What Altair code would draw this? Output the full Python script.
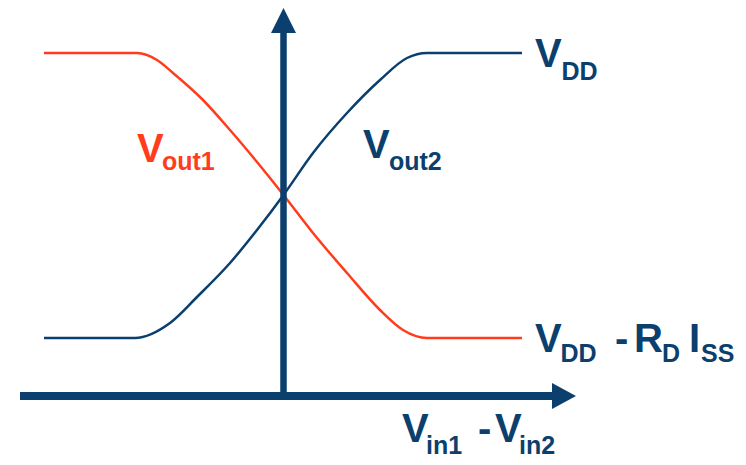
import altair as alt
import pandas as pd

NAVY = "#0b3f6e"
RED = "#ff3d1c"

# Transfer curves: x = Vin1 - Vin2, y = output voltage (arbitrary units)
red_x = [-2.395, -1.465, -1.265, -1.105, -0.805, -0.535, -0.265, 0.0, 0.295, 0.635, 0.965, 1.195, 1.435, 2.385]
red_y = [3.43, 3.43, 3.36, 3.23, 2.96, 2.66, 2.34, 2.01, 1.63, 1.23, 0.86, 0.66, 0.58, 0.58]
blue_x = [-2.395, -1.485, -1.135, -0.865, -0.535, -0.265, 0.0, 0.295, 0.635, 0.965, 1.235, 1.435, 2.385]
blue_y = [0.58, 0.58, 0.73, 0.99, 1.33, 1.66, 2.01, 2.43, 2.83, 3.16, 3.38, 3.43, 3.43]

# Axis arrows
h_axis = {"x1": -2.635, "x2": 2.70, "y": 0.0}
h_head_x = [2.685, 2.925]
h_head_lo = [-0.13, 0.0]
h_head_hi = [0.13, 0.0]
v_axis = {"x": 0.0, "y1": -0.04, "y2": 3.64}
v_head_y = [3.63, 3.88]
v_head_lo = [-0.125, 0.0]
v_head_hi = [0.125, 0.0]

# Labels (pieces of text with subscripts)
lab_text = ["V", "DD",
            "V", "DD", "-", "R", "D", "I", "SS",
            "V", "out1",
            "V", "out2",
            "V", "in1", "-", "V", "in2"]
lab_x = [2.515, 2.78,
         2.515, 2.77, 3.315, 3.505, 3.785, 4.055, 4.175,
         -1.465, -1.215,
         0.795, 1.055,
         1.185, 1.425, 1.945, 2.115, 2.355]
lab_y = [3.29, 3.16,
         0.443, 0.343, 0.443, 0.443, 0.343, 0.443, 0.343,
         2.34, 2.26,
         2.38, 2.26,
         -0.46, -0.575, -0.46, -0.46, -0.575]
lab_size = [40, 25,
            40, 25, 40, 40, 25, 40, 25,
            40, 25,
            40, 25,
            40, 25, 40, 40, 25]
lab_color = [NAVY, NAVY,
             NAVY, NAVY, NAVY, NAVY, NAVY, NAVY, NAVY,
             RED, RED,
             NAVY, NAVY,
             NAVY, NAVY, NAVY, NAVY, NAVY]

xs = alt.Scale(domain=[-2.755, 4.545], nice=False, zero=False)
ys = alt.Scale(domain=[-0.61, 3.88], nice=False, zero=False)

curves = pd.DataFrame(
    {"x": red_x + blue_x,
     "y": red_y + blue_y,
     "series": ["Vout1"] * len(red_x) + ["Vout2"] * len(blue_x)}
)

lines = alt.Chart(curves).mark_line(interpolate="monotone", strokeWidth=2.5).encode(
    x=alt.X("x:Q", scale=xs, axis=None),
    y=alt.Y("y:Q", scale=ys, axis=None),
    color=alt.Color("series:N", scale=alt.Scale(domain=["Vout1", "Vout2"], range=[RED, NAVY]), legend=None),
)

hrule = alt.Chart(pd.DataFrame([h_axis])).mark_rule(strokeWidth=8, color=NAVY).encode(
    x=alt.X("x1:Q", scale=xs, axis=None), x2="x2:Q", y=alt.Y("y:Q", scale=ys, axis=None)
)
vrule = alt.Chart(pd.DataFrame([v_axis])).mark_rule(strokeWidth=6.5, color=NAVY).encode(
    x=alt.X("x:Q", scale=xs, axis=None), y=alt.Y("y1:Q", scale=ys, axis=None), y2="y2:Q"
)

hhead = alt.Chart(pd.DataFrame({"x": h_head_x, "lo": h_head_lo, "hi": h_head_hi})).mark_area(
    color=NAVY, opacity=1
).encode(
    x=alt.X("x:Q", scale=xs, axis=None), y=alt.Y("lo:Q", scale=ys, axis=None), y2="hi:Q"
)
vhead = alt.Chart(pd.DataFrame({"y": v_head_y, "lo": v_head_lo, "hi": v_head_hi})).mark_area(
    color=NAVY, opacity=1, orient="horizontal"
).encode(
    y=alt.Y("y:Q", scale=ys, axis=None), x=alt.X("lo:Q", scale=xs, axis=None), x2="hi:Q"
)

labels_df = pd.DataFrame({"text": lab_text, "x": lab_x, "y": lab_y, "size": lab_size, "color": lab_color})
labels = alt.Chart(labels_df).mark_text(
    align="left", baseline="alphabetic", font="Liberation Sans", fontWeight="bold"
).encode(
    x=alt.X("x:Q", scale=xs, axis=None),
    y=alt.Y("y:Q", scale=ys, axis=None),
    text="text:N",
    size=alt.Size("size:Q", scale=None),
    color=alt.Color("color:N", scale=None),
)

chart = alt.layer(lines, hrule, vrule, hhead, vhead, labels).properties(
    width=730, height=449, padding=0, autosize=alt.AutoSizeParams(type="none")
).configure_view(stroke=None)

chart.save("out.html", embed_options={"renderer": "svg", "actions": False})
